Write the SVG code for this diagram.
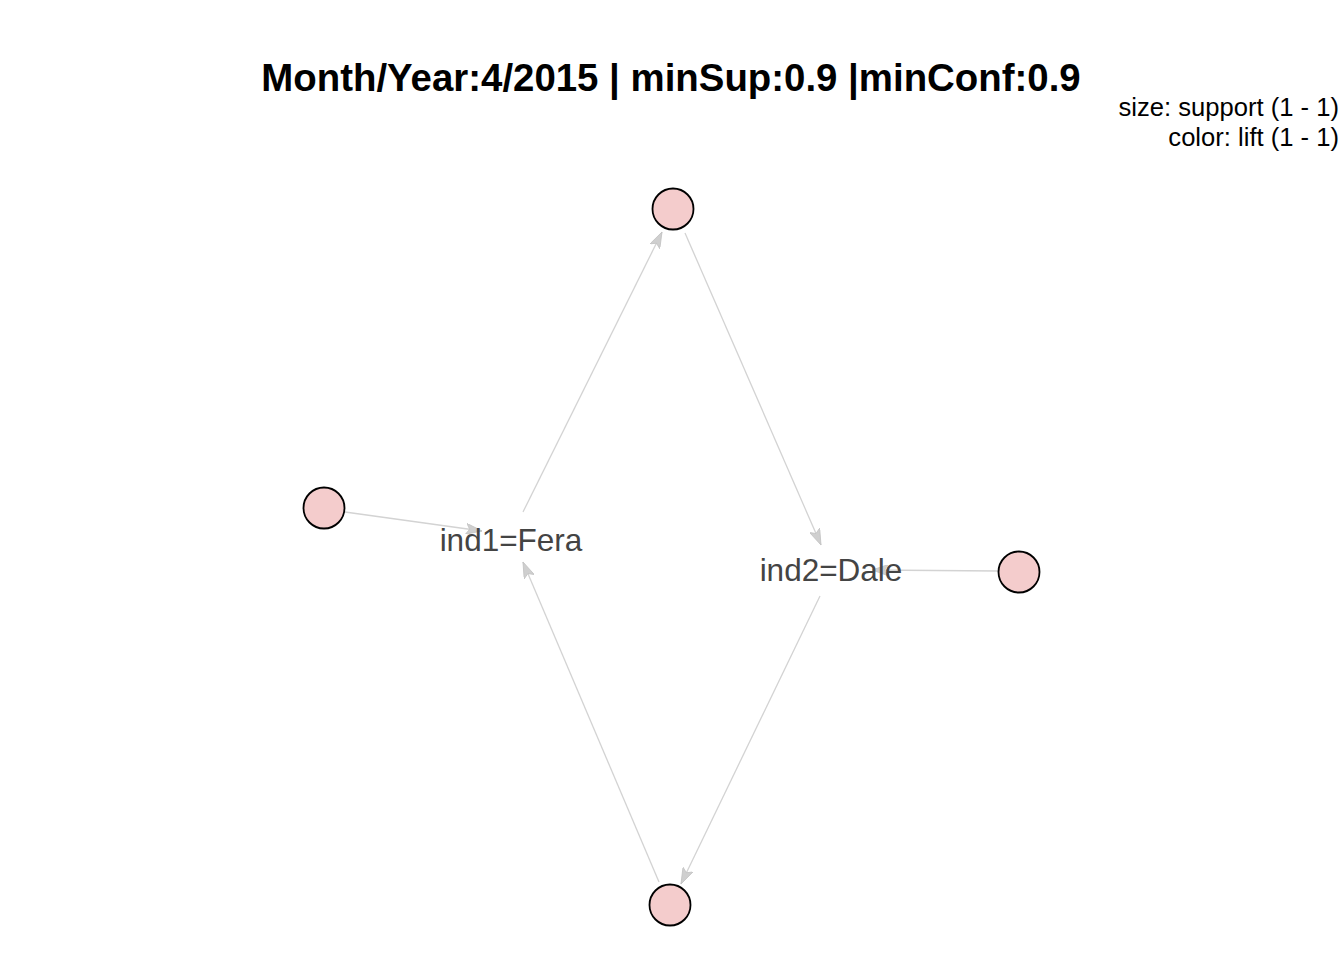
<svg xmlns="http://www.w3.org/2000/svg" width="1344" height="960" viewBox="0 0 1344 960">
<style>
.title{font-family:"Liberation Sans",Arial,sans-serif;font-weight:bold;font-size:38.4px;fill:#000;text-anchor:middle}
.legend{font-family:"Liberation Sans",Arial,sans-serif;font-size:25.6px;fill:#000;text-anchor:end}
.lbl{font-family:"Liberation Sans",Arial,sans-serif;font-size:31.5px;fill:#444;text-anchor:middle}
.edge{stroke:#d3d3d3;stroke-width:1.3;fill:none;marker-end:url(#arr)}
.node{fill:#f4cccc;stroke:#000;stroke-width:1.8}
</style>
<defs>
<marker id="arr" viewBox="0 0 16 11" refX="16" refY="5.5" markerWidth="16" markerHeight="11" markerUnits="userSpaceOnUse" orient="auto">
<path d="M0,0 L16,5.5 L0,11 L3.5,5.5 Z" fill="#cfcfcf" stroke="#c4c4c4" stroke-width="0.8"/>
</marker>
</defs>
<rect width="1344" height="960" fill="#fff"/>
<text class="title" x="671" y="91">Month/Year:4/2015 | minSup:0.9 |minConf:0.9</text>
<text class="legend" x="1339" y="116">size: support (1 - 1)</text>
<text class="legend" x="1339" y="146">color: lift (1 - 1)</text>
<g id="connectors">
<line class="edge" x1="345" y1="512" x2="482" y2="531"/>
<line class="edge" x1="523" y1="512" x2="662" y2="232"/>
<line class="edge" x1="685" y1="233" x2="821" y2="545"/>
<line class="edge" x1="820" y1="596" x2="681" y2="884"/>
<line class="edge" x1="659" y1="882" x2="523" y2="562"/>
<line class="edge" x1="998" y1="571" x2="872" y2="570"/>
</g>
<g id="node-top"><circle class="node" cx="673" cy="209" r="20.5"/></g>
<g id="node-left"><circle class="node" cx="324" cy="508" r="20.5"/></g>
<g id="node-right"><circle class="node" cx="1019" cy="572" r="20.5"/></g>
<g id="node-bottom"><circle class="node" cx="670" cy="905" r="20.5"/></g>
<g id="item-ind1"><text class="lbl" x="511" y="551">ind1=Fera</text></g>
<g id="item-ind2"><text class="lbl" x="831" y="581">ind2=Dale</text></g>
</svg>
